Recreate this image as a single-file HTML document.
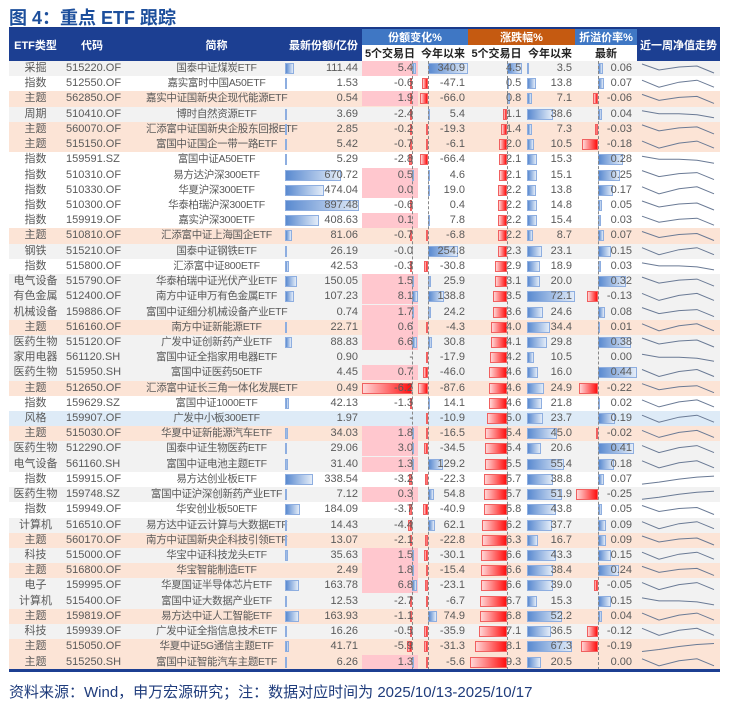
<!DOCTYPE html>
<html><head><meta charset="utf-8">
<style>
*{margin:0;padding:0;box-sizing:border-box}
body{width:733px;height:712px;background:#fff;position:relative;overflow:hidden;font-family:"Liberation Sans","Noto Sans CJK SC",sans-serif}
.title{position:absolute;left:9px;top:4px;font-size:18px;font-weight:bold;color:#1d4f9c}
.foot{position:absolute;left:9px;top:681px;font-size:15px;color:#1f3c7c}
.h{position:absolute;color:#fff;font-size:11px;font-weight:bold;display:flex;align-items:center;justify-content:center}
.sh{position:absolute;top:45px;height:16px;font-size:11px;font-weight:bold;color:#222;display:flex;align-items:center;justify-content:center;background:#fff}
#rows{position:absolute;left:0;top:61px;width:733px}
.r{position:relative;height:15.225px}
.r.g{background:linear-gradient(#f2f2f2,#f2f2f2) 9px 0/711px 100% no-repeat}
.r.o{background:linear-gradient(#fce4d6,#fce4d6) 9px 0/711px 100% no-repeat}
.r.s{background:linear-gradient(#deebf7,#deebf7) 9px 0/711px 100% no-repeat}
.r i,.r b{position:absolute;font-style:normal;font-weight:normal}
.r i{top:0;line-height:15px;font-size:11px;color:#5a5a5a;white-space:nowrap}
.t{left:9px;width:53px;text-align:center}
.c{left:66px}
.n{left:146px;width:141px;text-align:center;font-size:10.5px!important;letter-spacing:-0.3px}
.v4{right:375px}.v5{right:320px}.v6{right:268px}.v7{left:506px}.v8{right:161px}.v9{right:101px}
.r b{top:2px;height:11px}
.bb{background:linear-gradient(to right,#5a8ad0,#e3ecf8);border:1px solid #8eaee0}
.rb{background:linear-gradient(to left,#ff1010,#ffd6d6);border:1px solid #f06060}
.b4{left:285px}
.pk{left:362px;width:56px;top:0!important;height:15px!important;background:#ffc7ce}
.p5{left:412px}.n5{right:321px}
.p6{left:428px}.n6{right:305px}
.r7{right:226px}.l7{left:507px}
.b8{left:527px}
.p9{left:598px}.n9{right:135px}
.ax{position:absolute;top:61px;height:609px;border-left:1px dashed #888}
</style></head><body>
<div class="title">图 4：重点 ETF 跟踪</div>
<div style="position:absolute;left:9px;top:27px;width:711px;height:2px;background:#1a3a8a"></div>
<div class="h" style="left:9px;top:28px;width:353px;height:33px;background:#1c3f92"></div>
<div class="h" style="left:9px;top:28px;width:53px;height:33px">ETF类型</div>
<div class="h" style="left:62px;top:28px;width:60px;height:33px">代码</div>
<div class="h" style="left:150px;top:28px;width:133px;height:33px">简称</div>
<div class="h" style="left:285px;top:28px;width:77px;height:33px">最新份额/亿份</div>
<div class="h" style="left:362px;top:29px;width:106px;height:16px;background:#3f77c4">份额变化%</div>
<div class="h" style="left:468px;top:29px;width:107px;height:16px;background:#c55a11">涨跌幅%</div>
<div class="h" style="left:575px;top:29px;width:62px;height:16px;background:#3f77c4">折溢价率%</div>
<div class="h" style="left:637px;top:28px;width:83px;height:33px;background:#1c3f92">近一周净值走势</div>
<div class="sh" style="left:362px;width:56px">5个交易日</div>
<div class="sh" style="left:418px;width:50px">今年以来</div>
<div class="sh" style="left:468px;width:57px">5个交易日</div>
<div class="sh" style="left:525px;width:50px">今年以来</div>
<div class="sh" style="left:575px;width:62px">最新</div>
<div id="rows">
<div class="r g"><i class="t">采掘</i><i class="c">515220.OF</i><i class="n">国泰中证煤炭ETF</i><b class="b4 bb" style="width:9px"></b><i class="v4">111.44</i><b class="pk"></b><b class="p5 bb" style="width:4px"></b><i class="v5">5.4</i><b class="p6 bb" style="width:40px"></b><i class="v6">340.9</i><b class="l7 bb" style="width:15px"></b><i class="v7">4.5</i><b class="b8 bb" style="width:2px"></b><i class="v8">3.5</i><b class="p9 bb" style="width:5px"></b><i class="v9">0.06</i></div>
<div class="r w"><i class="t">指数</i><i class="c">512550.OF</i><i class="n">嘉实富时中国A50ETF</i><b class="b4 bb" style="width:1px"></b><i class="v4">1.53</i><b class="n5 rb" style="width:2px"></b><i class="v5">-0.6</i><b class="n6 rb" style="width:6px"></b><i class="v6">-47.1</i><b class="l7 bb" style="width:2px"></b><i class="v7">0.5</i><b class="b8 bb" style="width:9px"></b><i class="v8">13.8</i><b class="p9 bb" style="width:6px"></b><i class="v9">0.07</i></div>
<div class="r o"><i class="t">主题</i><i class="c">562850.OF</i><i class="n">嘉实中证国新央企现代能源ETF</i><i class="v4">0.54</i><b class="pk"></b><b class="n5 rb" style="width:2px"></b><i class="v5">1.9</i><b class="n6 rb" style="width:8px"></b><i class="v6">-66.0</i><b class="l7 bb" style="width:3px"></b><i class="v7">0.8</i><b class="b8 bb" style="width:5px"></b><i class="v8">7.1</i><b class="n9 rb" style="width:5px"></b><i class="v9">-0.06</i></div>
<div class="r g"><i class="t">周期</i><i class="c">510410.OF</i><i class="n">博时自然资源ETF</i><b class="b4 bb" style="width:1px"></b><i class="v4">3.69</i><b class="n5 rb" style="width:2px"></b><i class="v5">-2.4</i><b class="p6 bb" style="width:1px"></b><i class="v6">5.4</i><b class="r7 rb" style="width:4px"></b><i class="v7">1.1</i><b class="b8 bb" style="width:26px"></b><i class="v8">38.6</i><b class="p9 bb" style="width:4px"></b><i class="v9">0.04</i></div>
<div class="r o"><i class="t">主题</i><i class="c">560070.OF</i><i class="n">汇添富中证国新央企股东回报ETF</i><b class="b4 bb" style="width:1px"></b><i class="v4">2.85</i><b class="n5 rb" style="width:1px"></b><i class="v5">-0.2</i><b class="n6 rb" style="width:2px"></b><i class="v6">-19.3</i><b class="r7 rb" style="width:6px"></b><i class="v7">1.4</i><b class="b8 bb" style="width:5px"></b><i class="v8">7.3</i><b class="n9 rb" style="width:3px"></b><i class="v9">-0.03</i></div>
<div class="r o"><i class="t">主题</i><i class="c">515150.OF</i><i class="n">富国中证国企一带一路ETF</i><b class="b4 bb" style="width:1px"></b><i class="v4">5.42</i><b class="n5 rb" style="width:1px"></b><i class="v5">-0.7</i><b class="n6 rb" style="width:1px"></b><i class="v6">-6.1</i><b class="r7 rb" style="width:8px"></b><i class="v7">2.0</i><b class="b8 bb" style="width:7px"></b><i class="v8">10.5</i><b class="n9 rb" style="width:16px"></b><i class="v9">-0.18</i></div>
<div class="r w"><i class="t">指数</i><i class="c">159591.SZ</i><i class="n">富国中证A50ETF</i><b class="b4 bb" style="width:1px"></b><i class="v4">5.29</i><b class="n5 rb" style="width:3px"></b><i class="v5">-2.8</i><b class="n6 rb" style="width:8px"></b><i class="v6">-66.4</i><b class="r7 rb" style="width:8px"></b><i class="v7">2.1</i><b class="b8 bb" style="width:10px"></b><i class="v8">15.3</i><b class="p9 bb" style="width:25px"></b><i class="v9">0.28</i></div>
<div class="r w"><i class="t">指数</i><i class="c">510310.OF</i><i class="n">易方达沪深300ETF</i><b class="b4 bb" style="width:56px"></b><i class="v4">670.72</i><b class="pk"></b><b class="p5 bb" style="width:1px"></b><i class="v5">0.5</i><b class="p6 bb" style="width:1px"></b><i class="v6">4.6</i><b class="r7 rb" style="width:8px"></b><i class="v7">2.1</i><b class="b8 bb" style="width:10px"></b><i class="v8">15.1</i><b class="p9 bb" style="width:22px"></b><i class="v9">0.25</i></div>
<div class="r w"><i class="t">指数</i><i class="c">510330.OF</i><i class="n">华夏沪深300ETF</i><b class="b4 bb" style="width:39px"></b><i class="v4">474.04</i><b class="pk"></b><i class="v5">0.0</i><b class="p6 bb" style="width:2px"></b><i class="v6">19.0</i><b class="r7 rb" style="width:9px"></b><i class="v7">2.2</i><b class="b8 bb" style="width:9px"></b><i class="v8">13.8</i><b class="p9 bb" style="width:15px"></b><i class="v9">0.17</i></div>
<div class="r w"><i class="t">指数</i><i class="c">510300.OF</i><i class="n">华泰柏瑞沪深300ETF</i><b class="b4 bb" style="width:74px"></b><i class="v4">897.48</i><b class="n5 rb" style="width:1px"></b><i class="v5">-0.6</i><i class="v6">0.4</i><b class="r7 rb" style="width:9px"></b><i class="v7">2.2</i><b class="b8 bb" style="width:10px"></b><i class="v8">14.8</i><b class="p9 bb" style="width:4px"></b><i class="v9">0.05</i></div>
<div class="r w"><i class="t">指数</i><i class="c">159919.OF</i><i class="n">嘉实沪深300ETF</i><b class="b4 bb" style="width:34px"></b><i class="v4">408.63</i><b class="pk"></b><i class="v5">0.1</i><b class="p6 bb" style="width:1px"></b><i class="v6">7.8</i><b class="r7 rb" style="width:9px"></b><i class="v7">2.2</i><b class="b8 bb" style="width:10px"></b><i class="v8">15.4</i><b class="p9 bb" style="width:3px"></b><i class="v9">0.03</i></div>
<div class="r o"><i class="t">主题</i><i class="c">510810.OF</i><i class="n">汇添富中证上海国企ETF</i><b class="b4 bb" style="width:7px"></b><i class="v4">81.06</i><b class="n5 rb" style="width:1px"></b><i class="v5">-0.7</i><b class="n6 rb" style="width:1px"></b><i class="v6">-6.8</i><b class="r7 rb" style="width:9px"></b><i class="v7">2.2</i><b class="b8 bb" style="width:6px"></b><i class="v8">8.7</i><b class="p9 bb" style="width:6px"></b><i class="v9">0.07</i></div>
<div class="r g"><i class="t">钢铁</i><i class="c">515210.OF</i><i class="n">国泰中证钢铁ETF</i><b class="b4 bb" style="width:2px"></b><i class="v4">26.19</i><i class="v5">-0.0</i><b class="p6 bb" style="width:30px"></b><i class="v6">254.8</i><b class="r7 rb" style="width:9px"></b><i class="v7">2.3</i><b class="b8 bb" style="width:15px"></b><i class="v8">23.1</i><b class="p9 bb" style="width:13px"></b><i class="v9">0.15</i></div>
<div class="r w"><i class="t">指数</i><i class="c">515800.OF</i><i class="n">汇添富中证800ETF</i><b class="b4 bb" style="width:4px"></b><i class="v4">42.53</i><b class="n5 rb" style="width:1px"></b><i class="v5">-0.3</i><b class="n6 rb" style="width:4px"></b><i class="v6">-30.8</i><b class="r7 rb" style="width:12px"></b><i class="v7">2.9</i><b class="b8 bb" style="width:13px"></b><i class="v8">18.9</i><b class="p9 bb" style="width:3px"></b><i class="v9">0.03</i></div>
<div class="r g"><i class="t">电气设备</i><i class="c">515790.OF</i><i class="n">华泰柏瑞中证光伏产业ETF</i><b class="b4 bb" style="width:12px"></b><i class="v4">150.05</i><b class="pk"></b><b class="p5 bb" style="width:1px"></b><i class="v5">1.5</i><b class="p6 bb" style="width:3px"></b><i class="v6">25.9</i><b class="r7 rb" style="width:12px"></b><i class="v7">3.1</i><b class="b8 bb" style="width:13px"></b><i class="v8">20.0</i><b class="p9 bb" style="width:28px"></b><i class="v9">0.32</i></div>
<div class="r g"><i class="t">有色金属</i><i class="c">512400.OF</i><i class="n">南方中证申万有色金属ETF</i><b class="b4 bb" style="width:9px"></b><i class="v4">107.23</i><b class="pk"></b><b class="p5 bb" style="width:6px"></b><i class="v5">8.1</i><b class="p6 bb" style="width:16px"></b><i class="v6">138.8</i><b class="r7 rb" style="width:14px"></b><i class="v7">3.5</i><b class="b8 bb" style="width:48px"></b><i class="v8">72.1</i><b class="n9 rb" style="width:11px"></b><i class="v9">-0.13</i></div>
<div class="r g"><i class="t">机械设备</i><i class="c">159886.OF</i><i class="n">富国中证细分机械设备产业ETF</i><i class="v4">0.74</i><b class="pk"></b><b class="p5 bb" style="width:1px"></b><i class="v5">1.7</i><b class="p6 bb" style="width:3px"></b><i class="v6">24.2</i><b class="r7 rb" style="width:14px"></b><i class="v7">3.6</i><b class="b8 bb" style="width:16px"></b><i class="v8">24.6</i><b class="p9 bb" style="width:7px"></b><i class="v9">0.08</i></div>
<div class="r o"><i class="t">主题</i><i class="c">516160.OF</i><i class="n">南方中证新能源ETF</i><b class="b4 bb" style="width:2px"></b><i class="v4">22.71</i><b class="pk"></b><i class="v5">0.6</i><b class="n6 rb" style="width:1px"></b><i class="v6">-4.3</i><b class="r7 rb" style="width:16px"></b><i class="v7">4.0</i><b class="b8 bb" style="width:23px"></b><i class="v8">34.4</i><b class="p9 bb" style="width:1px"></b><i class="v9">0.01</i></div>
<div class="r g"><i class="t">医药生物</i><i class="c">515120.OF</i><i class="n">广发中证创新药产业ETF</i><b class="b4 bb" style="width:7px"></b><i class="v4">88.83</i><b class="pk"></b><b class="p5 bb" style="width:5px"></b><i class="v5">6.6</i><b class="p6 bb" style="width:4px"></b><i class="v6">30.8</i><b class="r7 rb" style="width:16px"></b><i class="v7">4.1</i><b class="b8 bb" style="width:20px"></b><i class="v8">29.8</i><b class="p9 bb" style="width:33px"></b><i class="v9">0.38</i></div>
<div class="r g"><i class="t">家用电器</i><i class="c">561120.SH</i><i class="n">富国中证全指家用电器ETF</i><i class="v4">0.90</i><i class="v5">-</i><b class="n6 rb" style="width:2px"></b><i class="v6">-17.9</i><b class="r7 rb" style="width:17px"></b><i class="v7">4.2</i><b class="b8 bb" style="width:7px"></b><i class="v8">10.5</i><i class="v9">0.00</i></div>
<div class="r g"><i class="t">医药生物</i><i class="c">515950.SH</i><i class="n">富国中证医药50ETF</i><i class="v4">4.45</i><b class="pk"></b><i class="v5">0.7</i><b class="n6 rb" style="width:5px"></b><i class="v6">-46.0</i><b class="r7 rb" style="width:18px"></b><i class="v7">4.6</i><b class="b8 bb" style="width:11px"></b><i class="v8">16.0</i><b class="p9 bb" style="width:39px"></b><i class="v9">0.44</i></div>
<div class="r o"><i class="t">主题</i><i class="c">512650.OF</i><i class="n">汇添富中证长三角一体化发展ETF</i><i class="v4">0.49</i><b class="n5 rb" style="width:50px"></b><i class="v5">-6.2</i><b class="n6 rb" style="width:10px"></b><i class="v6">-87.6</i><b class="r7 rb" style="width:18px"></b><i class="v7">4.6</i><b class="b8 bb" style="width:17px"></b><i class="v8">24.9</i><b class="n9 rb" style="width:19px"></b><i class="v9">-0.22</i></div>
<div class="r w"><i class="t">指数</i><i class="c">159629.SZ</i><i class="n">富国中证1000ETF</i><b class="b4 bb" style="width:4px"></b><i class="v4">42.13</i><b class="n5 rb" style="width:1px"></b><i class="v5">-1.3</i><b class="p6 bb" style="width:2px"></b><i class="v6">14.1</i><b class="r7 rb" style="width:18px"></b><i class="v7">4.6</i><b class="b8 bb" style="width:15px"></b><i class="v8">21.8</i><b class="p9 bb" style="width:2px"></b><i class="v9">0.02</i></div>
<div class="r s"><i class="t">风格</i><i class="c">159907.OF</i><i class="n">广发中小板300ETF</i><i class="v4">1.97</i><i class="v5">-</i><b class="n6 rb" style="width:1px"></b><i class="v6">-10.9</i><b class="r7 rb" style="width:20px"></b><i class="v7">5.0</i><b class="b8 bb" style="width:16px"></b><i class="v8">23.7</i><b class="p9 bb" style="width:17px"></b><i class="v9">0.19</i></div>
<div class="r o"><i class="t">主题</i><i class="c">515030.OF</i><i class="n">华夏中证新能源汽车ETF</i><b class="b4 bb" style="width:3px"></b><i class="v4">34.03</i><b class="pk"></b><b class="p5 bb" style="width:1px"></b><i class="v5">1.8</i><b class="n6 rb" style="width:2px"></b><i class="v6">-16.5</i><b class="r7 rb" style="width:22px"></b><i class="v7">5.4</i><b class="b8 bb" style="width:30px"></b><i class="v8">45.0</i><b class="n9 rb" style="width:2px"></b><i class="v9">-0.02</i></div>
<div class="r g"><i class="t">医药生物</i><i class="c">512290.OF</i><i class="n">国泰中证生物医药ETF</i><b class="b4 bb" style="width:2px"></b><i class="v4">29.06</i><b class="pk"></b><b class="p5 bb" style="width:2px"></b><i class="v5">3.0</i><b class="n6 rb" style="width:4px"></b><i class="v6">-34.5</i><b class="r7 rb" style="width:22px"></b><i class="v7">5.4</i><b class="b8 bb" style="width:14px"></b><i class="v8">20.6</i><b class="p9 bb" style="width:36px"></b><i class="v9">0.41</i></div>
<div class="r g"><i class="t">电气设备</i><i class="c">561160.SH</i><i class="n">富国中证电池主题ETF</i><b class="b4 bb" style="width:3px"></b><i class="v4">31.40</i><b class="pk"></b><b class="p5 bb" style="width:1px"></b><i class="v5">1.3</i><b class="p6 bb" style="width:15px"></b><i class="v6">129.2</i><b class="r7 rb" style="width:22px"></b><i class="v7">5.5</i><b class="b8 bb" style="width:37px"></b><i class="v8">55.4</i><b class="p9 bb" style="width:16px"></b><i class="v9">0.18</i></div>
<div class="r w"><i class="t">指数</i><i class="c">159915.OF</i><i class="n">易方达创业板ETF</i><b class="b4 bb" style="width:28px"></b><i class="v4">338.54</i><b class="n5 rb" style="width:3px"></b><i class="v5">-3.2</i><b class="n6 rb" style="width:3px"></b><i class="v6">-22.3</i><b class="r7 rb" style="width:23px"></b><i class="v7">5.7</i><b class="b8 bb" style="width:26px"></b><i class="v8">38.8</i><b class="p9 bb" style="width:6px"></b><i class="v9">0.07</i></div>
<div class="r g"><i class="t">医药生物</i><i class="c">159748.SZ</i><i class="n">富国中证沪深创新药产业ETF</i><b class="b4 bb" style="width:1px"></b><i class="v4">7.12</i><b class="pk"></b><i class="v5">0.3</i><b class="p6 bb" style="width:6px"></b><i class="v6">54.8</i><b class="r7 rb" style="width:23px"></b><i class="v7">5.7</i><b class="b8 bb" style="width:35px"></b><i class="v8">51.9</i><b class="n9 rb" style="width:22px"></b><i class="v9">-0.25</i></div>
<div class="r w"><i class="t">指数</i><i class="c">159949.OF</i><i class="n">华安创业板50ETF</i><b class="b4 bb" style="width:15px"></b><i class="v4">184.09</i><b class="n5 rb" style="width:3px"></b><i class="v5">-3.7</i><b class="n6 rb" style="width:5px"></b><i class="v6">-40.9</i><b class="r7 rb" style="width:23px"></b><i class="v7">5.8</i><b class="b8 bb" style="width:29px"></b><i class="v8">43.8</i><b class="p9 bb" style="width:4px"></b><i class="v9">0.05</i></div>
<div class="r g"><i class="t">计算机</i><i class="c">516510.OF</i><i class="n">易方达中证云计算与大数据ETF</i><b class="b4 bb" style="width:1px"></b><i class="v4">14.43</i><b class="n5 rb" style="width:4px"></b><i class="v5">-4.4</i><b class="p6 bb" style="width:7px"></b><i class="v6">62.1</i><b class="r7 rb" style="width:25px"></b><i class="v7">6.2</i><b class="b8 bb" style="width:25px"></b><i class="v8">37.7</i><b class="p9 bb" style="width:8px"></b><i class="v9">0.09</i></div>
<div class="r o"><i class="t">主题</i><i class="c">560170.OF</i><i class="n">南方中证国新央企科技引领ETF</i><b class="b4 bb" style="width:1px"></b><i class="v4">13.07</i><b class="n5 rb" style="width:2px"></b><i class="v5">-2.1</i><b class="n6 rb" style="width:3px"></b><i class="v6">-22.8</i><b class="r7 rb" style="width:25px"></b><i class="v7">6.3</i><b class="b8 bb" style="width:11px"></b><i class="v8">16.7</i><b class="p9 bb" style="width:8px"></b><i class="v9">0.09</i></div>
<div class="r g"><i class="t">科技</i><i class="c">515000.OF</i><i class="n">华宝中证科技龙头ETF</i><b class="b4 bb" style="width:3px"></b><i class="v4">35.63</i><b class="pk"></b><b class="p5 bb" style="width:1px"></b><i class="v5">1.5</i><b class="n6 rb" style="width:4px"></b><i class="v6">-30.1</i><b class="r7 rb" style="width:26px"></b><i class="v7">6.6</i><b class="b8 bb" style="width:29px"></b><i class="v8">43.3</i><b class="p9 bb" style="width:13px"></b><i class="v9">0.15</i></div>
<div class="r o"><i class="t">主题</i><i class="c">516800.OF</i><i class="n">华宝智能制造ETF</i><i class="v4">2.49</i><b class="pk"></b><b class="p5 bb" style="width:1px"></b><i class="v5">1.8</i><b class="n6 rb" style="width:2px"></b><i class="v6">-15.4</i><b class="r7 rb" style="width:26px"></b><i class="v7">6.6</i><b class="b8 bb" style="width:26px"></b><i class="v8">38.4</i><b class="p9 bb" style="width:21px"></b><i class="v9">0.24</i></div>
<div class="r g"><i class="t">电子</i><i class="c">159995.OF</i><i class="n">华夏国证半导体芯片ETF</i><b class="b4 bb" style="width:14px"></b><i class="v4">163.78</i><b class="pk"></b><b class="p5 bb" style="width:5px"></b><i class="v5">6.8</i><b class="n6 rb" style="width:3px"></b><i class="v6">-23.1</i><b class="r7 rb" style="width:26px"></b><i class="v7">6.6</i><b class="b8 bb" style="width:26px"></b><i class="v8">39.0</i><b class="n9 rb" style="width:4px"></b><i class="v9">-0.05</i></div>
<div class="r g"><i class="t">计算机</i><i class="c">515400.OF</i><i class="n">富国中证大数据产业ETF</i><b class="b4 bb" style="width:1px"></b><i class="v4">12.53</i><b class="n5 rb" style="width:2px"></b><i class="v5">-2.7</i><b class="n6 rb" style="width:1px"></b><i class="v6">-6.7</i><b class="r7 rb" style="width:27px"></b><i class="v7">6.7</i><b class="b8 bb" style="width:10px"></b><i class="v8">15.3</i><b class="p9 bb" style="width:13px"></b><i class="v9">0.15</i></div>
<div class="r o"><i class="t">主题</i><i class="c">159819.OF</i><i class="n">易方达中证人工智能ETF</i><b class="b4 bb" style="width:14px"></b><i class="v4">163.93</i><b class="n5 rb" style="width:1px"></b><i class="v5">-1.1</i><b class="p6 bb" style="width:9px"></b><i class="v6">74.9</i><b class="r7 rb" style="width:27px"></b><i class="v7">6.8</i><b class="b8 bb" style="width:35px"></b><i class="v8">52.2</i><b class="p9 bb" style="width:4px"></b><i class="v9">0.04</i></div>
<div class="r g"><i class="t">科技</i><i class="c">159939.OF</i><i class="n">广发中证全指信息技术ETF</i><b class="b4 bb" style="width:1px"></b><i class="v4">16.26</i><b class="n5 rb" style="width:1px"></b><i class="v5">-0.5</i><b class="n6 rb" style="width:4px"></b><i class="v6">-35.9</i><b class="r7 rb" style="width:28px"></b><i class="v7">7.1</i><b class="b8 bb" style="width:24px"></b><i class="v8">36.5</i><b class="n9 rb" style="width:11px"></b><i class="v9">-0.12</i></div>
<div class="r o"><i class="t">主题</i><i class="c">515050.OF</i><i class="n">华夏中证5G通信主题ETF</i><b class="b4 bb" style="width:4px"></b><i class="v4">41.71</i><b class="n5 rb" style="width:5px"></b><i class="v5">-5.9</i><b class="n6 rb" style="width:4px"></b><i class="v6">-31.3</i><b class="r7 rb" style="width:32px"></b><i class="v7">8.1</i><b class="b8 bb" style="width:45px"></b><i class="v8">67.3</i><b class="n9 rb" style="width:17px"></b><i class="v9">-0.19</i></div>
<div class="r o"><i class="t">主题</i><i class="c">515250.SH</i><i class="n">富国中证智能汽车主题ETF</i><b class="b4 bb" style="width:1px"></b><i class="v4">6.26</i><b class="pk"></b><b class="p5 bb" style="width:1px"></b><i class="v5">1.3</i><b class="n6 rb" style="width:1px"></b><i class="v6">-5.6</i><b class="r7 rb" style="width:37px"></b><i class="v7">9.3</i><b class="b8 bb" style="width:14px"></b><i class="v8">20.5</i><i class="v9">0.00</i></div>
</div>
<div class="ax" style="left:412px"></div>
<div class="ax" style="left:428px"></div>
<div class="ax" style="left:507px"></div>
<div class="ax" style="left:598px"></div>
<svg style="position:absolute;left:637px;top:61px" width="83" height="609" fill="none" stroke="#6a7a95" stroke-width="1">
<defs>
<polyline id="A" points="5,3 22,9 42,6 60,5 77,12"/>
<polyline id="B" points="5,4 22,11 42,6 60,4 77,11"/>
<polyline id="C" points="5,12 22,10 42,7 60,5 77,4"/>
<polyline id="D" points="5,4 22,7 42,7 60,8 77,11"/>
</defs>
<use href="#A" y="0"/><use href="#B" y="15.2"/><use href="#A" y="30.4"/><use href="#D" y="45.7"/><use href="#A" y="60.9"/><use href="#B" y="76.1"/><use href="#D" y="91.3"/><use href="#A" y="106.6"/><use href="#B" y="121.8"/><use href="#A" y="137"/><use href="#A" y="152.2"/><use href="#A" y="167.5"/><use href="#B" y="182.7"/><use href="#D" y="197.9"/><use href="#A" y="213.1"/><use href="#B" y="228.4"/><use href="#A" y="243.6"/><use href="#B" y="258.8"/><use href="#A" y="274"/><use href="#D" y="289.3"/><use href="#B" y="304.5"/><use href="#A" y="319.7"/><use href="#B" y="334.9"/><use href="#B" y="350.2"/><use href="#B" y="365.4"/><use href="#B" y="380.6"/><use href="#B" y="395.8"/><use href="#C" y="411.1"/><use href="#C" y="426.3"/><use href="#A" y="441.5"/><use href="#B" y="456.7"/><use href="#A" y="472"/><use href="#B" y="487.2"/><use href="#A" y="502.4"/><use href="#B" y="517.6"/><use href="#D" y="532.9"/><use href="#B" y="548.1"/><use href="#B" y="563.3"/><use href="#C" y="578.5"/><use href="#B" y="593.8"/>
</svg>
<div style="position:absolute;left:9px;top:669px;width:711px;height:3px;background:#1c3f92"></div>
<div class="foot">资料来源：Wind，申万宏源研究；注：数据对应时间为 2025/10/13-2025/10/17</div>
</body></html>
